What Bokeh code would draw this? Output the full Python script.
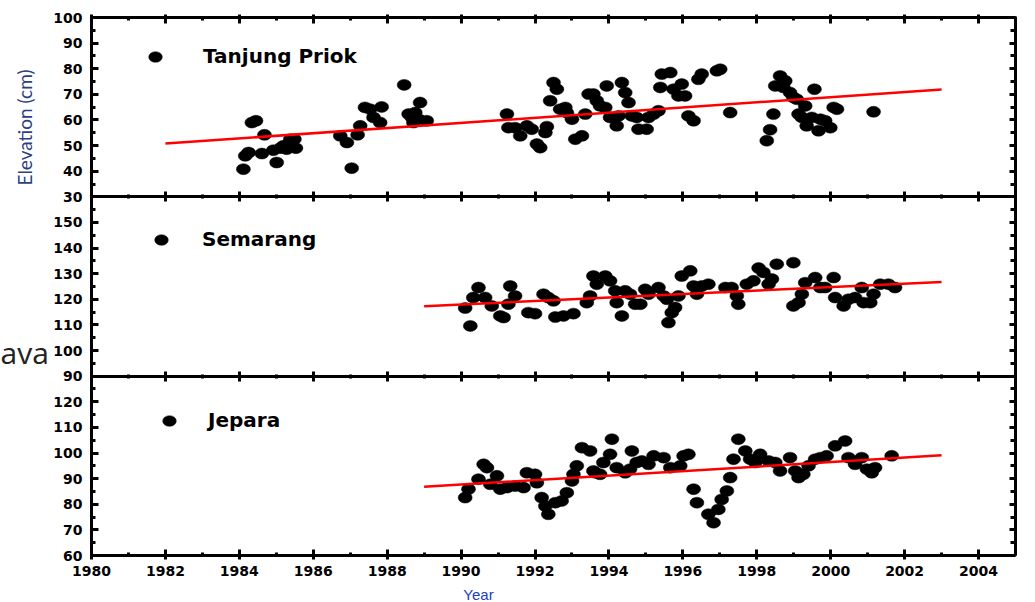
import math

from bokeh.embed import file_html
from bokeh.models import FixedTicker, Label, Legend, LegendItem, LinearAxis, Range1d
from bokeh.plotting import figure
from bokeh.resources import INLINE

# Monthly mean sea level (cm) at three north-coast tide stations
tp_year = [1984.11, 1984.16, 1984.25, 1984.34, 1984.45, 1984.61, 1984.68, 1984.92, 1985.01, 1985.11,
           1985.19, 1985.28, 1985.38, 1985.49, 1985.53,
           1986.73, 1986.91, 1987.04, 1987.20, 1987.27, 1987.40, 1987.54, 1987.63, 1987.81, 1987.85,
           1988.46, 1988.58, 1988.67, 1988.71, 1988.76, 1988.85, 1988.89, 1989.07,
           1991.24, 1991.28, 1991.46, 1991.60, 1991.78, 1991.91, 1992.05, 1992.14, 1992.28, 1992.32,
           1992.41, 1992.50, 1992.59, 1992.68, 1992.82, 1992.86, 1993.00, 1993.09, 1993.27, 1993.36,
           1993.45, 1993.58, 1993.67, 1993.76, 1993.90, 1993.94, 1994.03, 1994.21, 1994.26, 1994.35,
           1994.44, 1994.53, 1994.62, 1994.75, 1994.80, 1995.02, 1995.07, 1995.21, 1995.34, 1995.39,
           1995.43, 1995.66, 1995.75, 1995.88, 1995.97, 1996.06, 1996.15, 1996.29, 1996.42, 1996.51,
           1996.92, 1997.01, 1997.28,
           1998.27, 1998.36, 1998.45, 1998.50, 1998.63, 1998.72, 1998.77, 1998.90, 1998.99, 1999.08,
           1999.13, 1999.22, 1999.31, 1999.35, 1999.49, 1999.56, 1999.67, 1999.72, 1999.85, 1999.99,
           2000.08, 2000.17, 2001.16]
tp_elev = [40.8, 46.0, 47.3, 59.0, 59.7, 46.9, 54.2, 48.2, 43.4, 49.0,
           49.9, 48.6, 52.5, 52.5, 49.0,
           53.8, 51.2, 41.2, 54.2, 57.7, 64.9, 64.2, 61.0, 59.0, 65.1,
           73.7, 62.3, 61.0, 59.0, 62.9, 60.3, 66.8, 59.7,
           62.3, 57.0, 57.0, 53.8, 57.7, 56.4, 50.6, 49.2, 55.1, 57.4,
           67.5, 74.6, 72.0, 64.2, 64.9, 62.9, 60.3, 52.5, 53.8, 62.3,
           70.1, 70.1, 67.5, 65.5, 64.9, 73.3, 61.0, 57.7, 61.6, 74.6,
           70.7, 66.8, 61.6, 61.0, 56.4, 56.4, 61.0, 62.3, 63.6, 72.7,
           77.9, 78.5, 72.0, 69.4, 74.0, 69.4, 61.6, 59.7, 75.9, 77.9,
           79.2, 79.8, 62.9,
           51.9, 56.2, 62.3, 73.3, 77.2, 72.7, 75.3, 70.7, 68.8, 68.1,
           62.3, 61.0, 65.5, 57.7, 61.0, 72.0, 55.8, 60.3, 59.7, 57.0,
           64.9, 64.2, 63.2]

sm_year = [1990.11, 1990.25, 1990.33, 1990.47, 1990.65, 1990.83, 1991.06, 1991.15, 1991.28, 1991.33,
           1991.46, 1991.82, 1992.00, 1992.23, 1992.36, 1992.50, 1992.55, 1992.77, 1993.04, 1993.40,
           1993.49, 1993.58, 1993.67, 1993.90, 1994.03, 1994.17, 1994.21, 1994.35, 1994.44, 1994.57,
           1994.71, 1994.85, 1994.98, 1995.07, 1995.34, 1995.48, 1995.57, 1995.61, 1995.70, 1995.79,
           1995.88, 1995.97, 1996.20, 1996.29, 1996.38, 1996.51, 1996.69, 1997.15, 1997.32, 1997.46,
           1997.50, 1997.73, 1997.91, 1998.05, 1998.18, 1998.32, 1998.41, 1998.54, 1998.99, 1998.99,
           1999.13, 1999.22, 1999.31, 1999.58, 1999.72, 1999.85, 2000.08, 2000.12, 2000.35, 2000.48,
           2000.66, 2000.84, 2000.89, 2001.07, 2001.16, 2001.34, 2001.56, 2001.74]
sm_elev = [116.6, 109.6, 120.7, 124.6, 120.7, 117.4, 113.5, 112.9, 118.1, 125.2,
           121.3, 114.8, 114.4, 122.0, 120.7, 119.4, 113.1, 113.5, 114.4, 118.7,
           121.3, 129.1, 125.9, 129.1, 127.2, 123.3, 118.7, 113.5, 123.3, 122.0,
           118.1, 118.1, 123.9, 122.0, 124.6, 121.3, 120.0, 110.9, 114.8, 116.8,
           121.3, 129.1, 131.1, 125.2, 122.0, 125.2, 125.9, 124.6, 124.6, 121.3,
           118.1, 125.9, 127.2, 132.2, 130.5, 125.9, 127.9, 133.7, 134.3, 117.4,
           118.7, 122.0, 126.5, 128.5, 124.6, 124.6, 128.5, 120.7, 117.4, 120.0,
           120.7, 124.6, 118.7, 118.7, 122.0, 125.9, 125.9, 124.6]

jp_year = [1990.11, 1990.20, 1990.47, 1990.61, 1990.70, 1990.79, 1990.97, 1991.06, 1991.24, 1991.46,
           1991.69, 1991.78, 1992.00, 1992.05, 1992.18, 1992.28, 1992.36, 1992.55, 1992.72, 1992.86,
           1993.00, 1993.04, 1993.13, 1993.27, 1993.49, 1993.58, 1993.63, 1993.76, 1993.85, 1994.03,
           1994.08, 1994.21, 1994.44, 1994.57, 1994.62, 1994.75, 1994.89, 1995.07, 1995.21, 1995.48,
           1995.66, 1995.93, 1996.02, 1996.15, 1996.29, 1996.38, 1996.69, 1996.83, 1996.96, 1997.05,
           1997.19, 1997.28, 1997.37, 1997.50, 1997.69, 1997.82, 1997.96, 1998.09, 1998.32, 1998.50,
           1998.63, 1998.90, 1999.04, 1999.13, 1999.26, 1999.40, 1999.58, 1999.72, 1999.89, 2000.12,
           2000.39, 2000.48, 2000.66, 2000.84, 2000.98, 2001.11, 2001.20, 2001.65]
jp_elev = [82.6, 85.9, 89.8, 95.6, 94.3, 87.8, 91.1, 85.9, 86.5, 87.1,
           86.5, 92.3, 91.7, 88.4, 82.6, 79.3, 76.1, 80.6, 81.3, 84.5,
           89.1, 91.7, 95.0, 102.1, 100.8, 93.0, 92.3, 91.7, 96.3, 99.5,
           105.4, 94.3, 92.3, 93.7, 100.8, 96.3, 96.9, 95.6, 98.9, 98.2,
           94.3, 95.0, 98.9, 99.5, 85.9, 80.6, 76.1, 72.8, 78.0, 81.9,
           85.2, 90.4, 97.6, 105.4, 100.8, 97.6, 96.3, 99.5, 96.9, 96.3,
           93.0, 98.2, 93.0, 90.4, 91.7, 95.0, 97.6, 98.2, 98.9, 102.8,
           104.7, 98.2, 95.6, 98.2, 93.7, 92.3, 94.3, 98.9]

# Linear trend end points for each station
tp_trend_x = [1982.0, 2003.0]
tp_trend_y = [50.8, 71.9]
sm_trend_x = [1989.0, 2003.0]
sm_trend_y = [117.3, 126.8]
jp_trend_x = [1989.0, 2003.0]
jp_trend_y = [86.8, 99.1]

station_names = ["Tanjung Priok", "Semarang", "Jepara"]

# elevation windows (bottom, top) of the three stacked panels
panel_windows = [(30, 100), (90, 160), (60, 130)]
panel_labels = [list(range(30, 101, 10)), list(range(90, 151, 10)), list(range(60, 121, 10))]

year_lo, year_hi = 1980, 2005
year_major = list(range(1980, 2006, 2))
year_minor = list(range(1981, 2006, 2))

# ---- layout (pixels) ----
W, H = 1035, 602
BOX_L, BOX_R, BOX_T, BOX_B = 91, 1015, 17, 555
TICK_FONT = "DejaVu Sans"

px_per_year = (BOX_R - BOX_L) / (year_hi - year_lo)
panel_h = (BOX_B - BOX_T) / 3
x_range = Range1d(year_lo - BOX_L / px_per_year, year_hi + (W - BOX_R) / px_per_year)

range_names = ["default", "mid", "bot"]
y_ranges = []
for i, (lo, hi) in enumerate(panel_windows):
    per_px = (hi - lo) / panel_h
    top = hi + (BOX_T + i * panel_h) * per_px
    y_ranges.append(Range1d(top - H * per_px, top))

p = figure(width=W, height=H, x_range=x_range, y_range=y_ranges[0],
           output_backend="svg", toolbar_location=None,
           x_axis_location=None, y_axis_location=None,
           min_border_left=0, min_border_right=0, min_border_top=0, min_border_bottom=0,
           outline_line_color=None, background_fill_color="white", border_fill_color="white")
p.extra_y_ranges = {"mid": y_ranges[1], "bot": y_ranges[2]}
p.grid.visible = False


def style_axis(ax, tin, tout, mtin, mtout):
    ax.axis_line_width = 3
    ax.axis_line_color = "black"
    ax.major_tick_line_width = 3
    ax.minor_tick_line_width = 3
    ax.major_tick_in = tin
    ax.major_tick_out = tout
    ax.minor_tick_in = mtin
    ax.minor_tick_out = mtout
    ax.major_label_text_font = TICK_FONT
    ax.major_label_text_font_style = "bold"
    ax.major_label_text_font_size = "14px"
    ax.major_label_text_color = "black"
    return ax


# horizontal rules: top edge, two panel boundaries, bottom edge with year labels
for name, loc, side, tin, tout, mtin, mtout, labels in [
        ("default", 100, "above", 6, 3, 3, 1, False),
        ("default", 30, "below", 5, 5, 2, 2, False),
        ("mid", 90, "below", 5, 5, 2, 2, False),
        ("bot", 60, "below", 6, 4, 3, 0, True)]:
    ax = LinearAxis(y_range_name=name, fixed_location=loc, bounds=(year_lo, year_hi),
                    ticker=FixedTicker(ticks=year_major, minor_ticks=year_minor))
    style_axis(ax, tin, tout, mtin, mtout)
    if labels:
        ax.major_label_standoff = 6
    else:
        ax.major_label_text_color = None
    p.add_layout(ax, side)

# vertical rules with elevation ticks for each panel
for name, (lo, hi), majors in zip(range_names, panel_windows, panel_labels):
    minors = list(range(lo + 5, hi, 10))
    left = LinearAxis(y_range_name=name, fixed_location=year_lo, bounds=(lo, hi),
                      ticker=FixedTicker(ticks=majors, minor_ticks=minors))
    style_axis(left, 7, 0, 4, 0)
    left.major_label_standoff = 9
    p.add_layout(left, "left")

    right = LinearAxis(y_range_name=name, fixed_location=year_hi, bounds=(lo, hi),
                       ticker=FixedTicker(ticks=list(range(lo, hi + 1, 10)), minor_ticks=minors))
    style_axis(right, 6, 0, 5, 0)
    right.major_label_text_color = None
    p.add_layout(right, "right")

# data points and trend lines
series = [
    (tp_year, tp_elev, tp_trend_x, tp_trend_y, "default"),
    (sm_year, sm_elev, sm_trend_x, sm_trend_y, "mid"),
    (jp_year, jp_elev, jp_trend_x, jp_trend_y, "bot"),
]
dot_renderers = []
for yrs, elev, tx, ty, name in series:
    r = p.ellipse(x=yrs, y=elev, width=14, height=11,
                  width_units="screen", height_units="screen",
                  fill_color="black", line_color="black", line_width=0.5,
                  y_range_name=name)
    dot_renderers.append(r)
    p.line(x=tx, y=ty, line_color="#ff0000", line_width=2.5, y_range_name=name)

# station keys, one per panel
legend_spots = [((145, 534), 38), ((151, 351), 31), ((159, 170), 29)]
for label, rend, (loc, standoff) in zip(station_names, dot_renderers, legend_spots):
    lg = Legend(items=[LegendItem(label=label, renderers=[rend])], location=loc,
                border_line_color=None, background_fill_alpha=0,
                padding=0, margin=0, spacing=0,
                glyph_width=20, glyph_height=17, label_height=17,
                label_standoff=standoff,
                label_text_font=TICK_FONT, label_text_font_style="bold",
                label_text_font_size="20px", label_text_color="black")
    p.add_layout(lg)

p.add_layout(Label(x=24, y=H - 127, x_units="screen", y_units="screen",
                   text="Elevation (cm)", angle=math.pi / 2,
                   text_align="center", text_baseline="middle",
                   text_font="Lato", text_font_size="19px", text_color="#2b4182"))
p.add_layout(Label(x=478, y=H - 594, x_units="screen", y_units="screen",
                   text="Year", text_align="center", text_baseline="middle",
                   text_font="Liberation Sans", text_font_size="15px", text_color="#2040c0"))
p.add_layout(Label(x=0, y=H - 352, x_units="screen", y_units="screen",
                   text="ava", text_align="left", text_baseline="middle",
                   text_font="Open Sans", text_font_size="30px", text_color="#222222"))

open("out.html", "w").write(file_html(p, INLINE))
